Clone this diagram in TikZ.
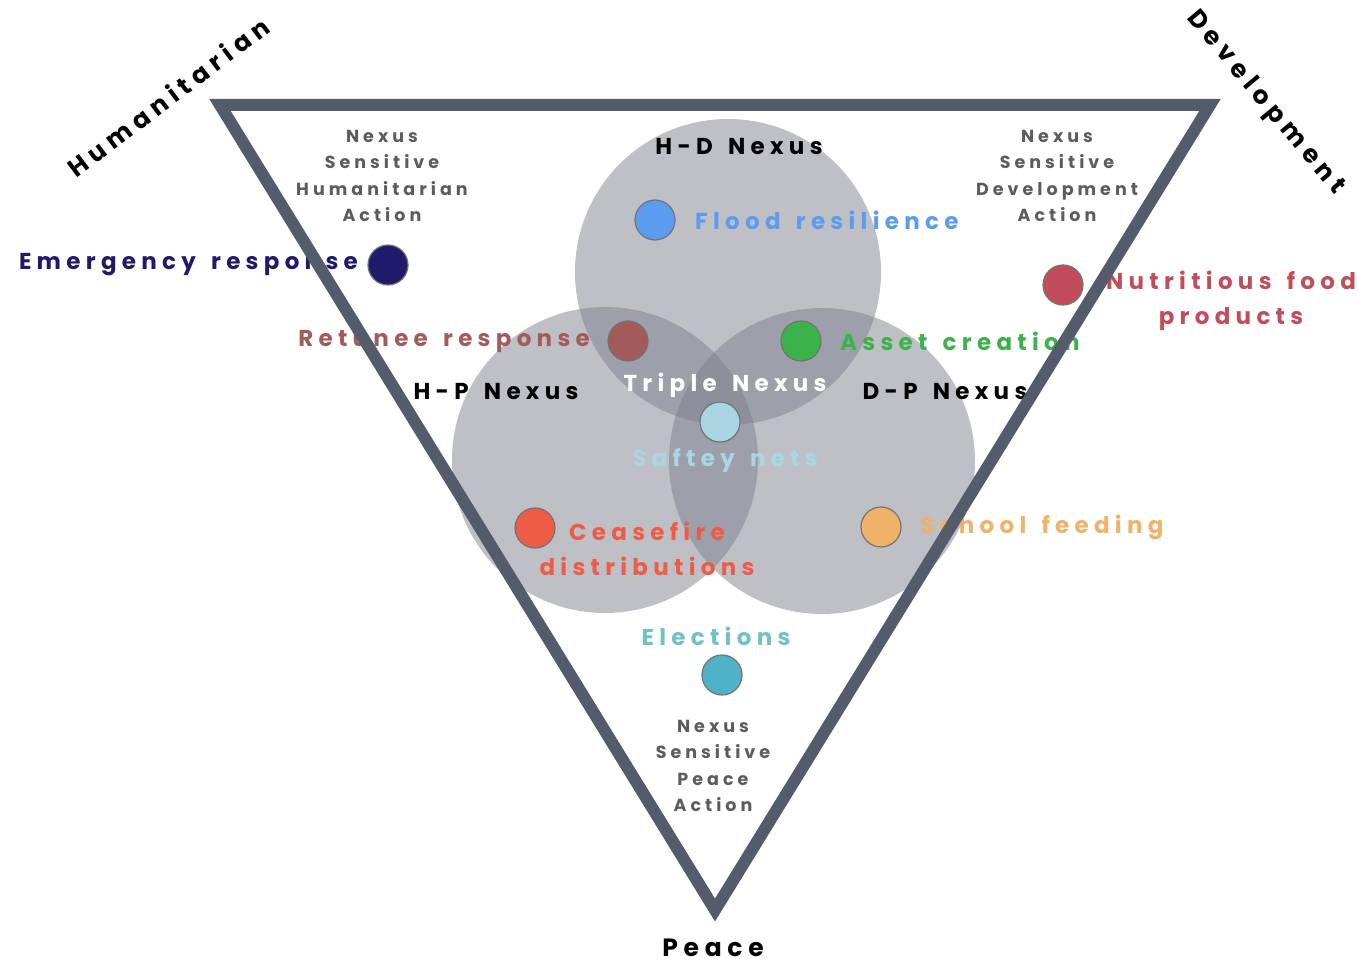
\documentclass[tikz,border=0pt]{standalone}
\usepackage{fontspec}
\usepackage{tikz}
\usetikzlibrary{positioning}
\newfontfamily\popfont[LetterSpace=23, WordSpace=1.5]{Poppins}
\definecolor{edgegray}{HTML}{545B6B}
\definecolor{ringgray}{HTML}{7D818E}
\definecolor{notegray}{HTML}{5C5C5C}
\definecolor{navy}{HTML}{1F1A6B}
\definecolor{floodblue}{HTML}{5B9BF0}
\definecolor{retunbrown}{HTML}{A35A5A}
\definecolor{assetgreen}{HTML}{3CB34A}
\definecolor{safetyblue}{HTML}{A9D6E2}
\definecolor{ceasered}{HTML}{EE5C47}
\definecolor{schoolorange}{HTML}{F0B268}
\definecolor{nutrired}{HTML}{C24D5A}
\definecolor{electteal}{HTML}{4FB3C8}
\definecolor{electtext}{HTML}{72C0C4}
\tikzset{%
	dot/.style   = {circle, draw=black!55, line width=1.2pt, minimum size=40pt, inner sep=0pt},
	item/.style  = {font=\popfont\bfseries\fontsize{23}{35}\selectfont, inner sep=0pt, align=center},
	nexus/.style = {font=\popfont\bfseries\fontsize{23}{26}\selectfont, inner sep=0pt},
	note/.style  = {font=\popfont\bfseries\fontsize{17.5}{26.5}\selectfont, text=notegray, align=center, inner sep=0pt},
	ring/.style  = {fill=ringgray, fill opacity=0.5},
	corner/.style= {font=\popfont\bfseries\fontsize{25}{28}\selectfont, inner sep=0pt},
}

\begin{document}
\begin{tikzpicture}[x=1pt,y=-1pt]
	\useasboundingbox (0,0) rectangle (1361,963);
	
	% the three overlapping circles
	\fill[ring] (728,272) circle (153);
	\fill[ring] (605,460) circle (153);
	\fill[ring] (822,461) circle (153);
	
	% dot positions, labels hang on them
	\coordinate (emerg) at (388,265);
	\coordinate (flood) at (655,220);
	\coordinate (retun) at (628,341);
	\coordinate (asset) at (801,341);
	\coordinate (safety) at (720,422);
	\coordinate (cease) at (535,528);
	\coordinate (school) at (881,527);
	\coordinate (nutri) at (1063,285);
	\coordinate (elect) at (722,675);
	
	\node[item, text=navy, anchor=east] (emergtxt) at ([xshift=-30pt]emerg) {Emergency response};
	\node[item, text=floodblue, anchor=west] (floodtxt) at ([xshift=40pt]flood) {Flood resilience};
	\node[item, text=retunbrown, anchor=east] (retuntxt) at ([xshift=-38pt]retun) {Retunee response};
	\node[item, text=assetgreen, anchor=west] (assettxt) at ([xshift=39pt]asset) {Asset creation};
	\node[item, text=safetyblue] (safetytxt) at (725,461) {Saftey nets};
	\node[item, text=ceasered] (ceasetxt) at (647,549) {Ceasefire\\distributions};
	\node[item, text=schoolorange, anchor=west] (schooltxt) at ([xshift=39pt]school) {School feeding};
	\node[item, text=nutrired] (nutritxt) at (1231,301) {Nutritious food\\products};
	\node[item, text=electtext] (electtxt) at (716,636) {Elections};
	
	\node[nexus] (hd) at (739,147) {H-D Nexus};
	\node[nexus] (hp) at (496,392) {H-P Nexus};
	\node[nexus] (dp) at (945,392) {D-P Nexus};
	
	\node[note] (hnote) at (382,176) {Nexus\\Sensitive\\Humanitarian\\Action};
	\node[note] (dnote) at (1057,176) {Nexus\\Sensitive\\Development\\Action};
	\node[note] (pnote) at (713,766) {Nexus\\Sensitive\\Peace\\Action};
	
	% the triangle
	\draw[edgegray, line width=12pt, line join=miter] (220,105) -- (1210,105) -- (715,910) -- cycle;
	
	\node[corner, rotate=37] (hum) at (168,97) {Humanitarian};
	\node[corner, rotate=-50] (dev) at (1265,103) {Development};
	\node[corner] (peace) at (713,948) {Peace};
	
	\node[dot, fill=navy] at (emerg) {};
	\node[dot, fill=floodblue] at (flood) {};
	\node[dot, fill=retunbrown] at (retun) {};
	\node[dot, fill=assetgreen] at (asset) {};
	\node[dot, fill=safetyblue] at (safety) {};
	\node[dot, fill=ceasered] at (cease) {};
	\node[dot, fill=schoolorange] at (school) {};
	\node[dot, fill=nutrired] at (nutri) {};
	\node[dot, fill=electteal] at (elect) {};
	
	\node[nexus, text=white] (triple) at (725,385) {Triple Nexus};
\end{tikzpicture}
\end{document}
